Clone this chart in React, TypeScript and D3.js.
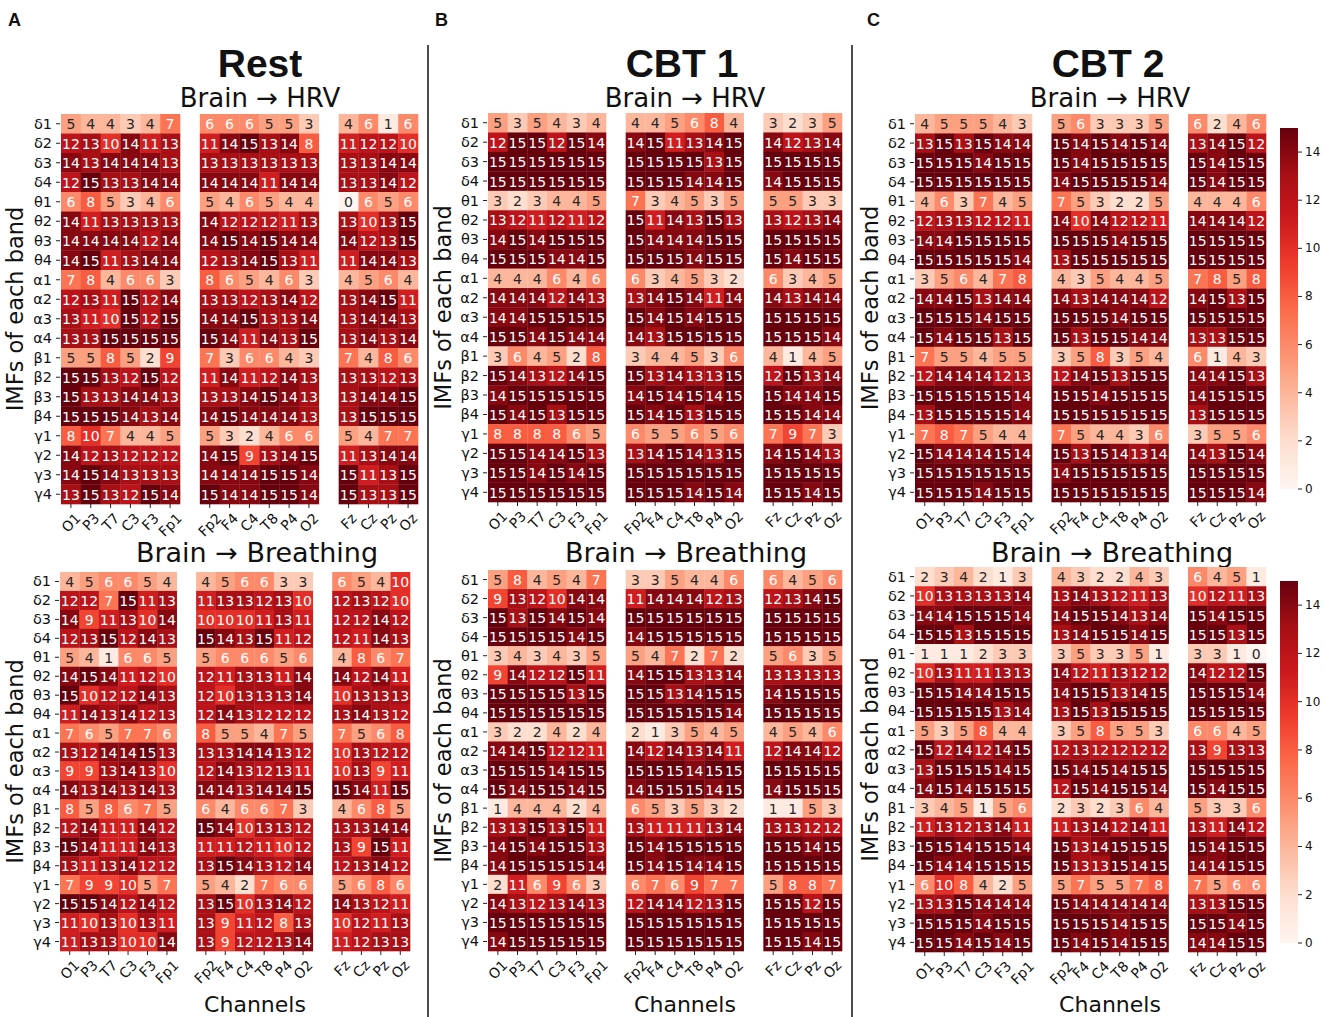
import React from "react";
import * as d3 from "d3";

const bands = ["δ1","δ2","δ3","δ4","θ1","θ2","θ3","θ4","α1","α2","α3","α4","β1","β2","β3","β4","γ1","γ2","γ3","γ4"];
const channels = ["O1","P3","T7","C3","F3","Fp1","Fp2","F4","C4","T8","P4","O2","Fz","Cz","Pz","Oz"];
const colorbarTicks = [0, 2, 4, 6, 8, 10, 12, 14];
const redsPalette = ["#fff5f0","#fee0d2","#fcbba1","#fc9272","#fb6a4a","#ef3b2c","#cb181d","#a50f15","#67000d"];
const conditions = ["Rest", "CBT 1", "CBT 2"];
const panelLetters = ["A", "B", "C"];
const targets = ["Brain → HRV", "Brain → Breathing"];

const restHRV = [
  [5,4,4,3,4,7, 6,6,6,5,5,3, 4,6,1,6],
  [12,13,10,14,11,13, 11,14,15,13,14,8, 11,12,12,10],
  [14,13,14,14,14,13, 13,13,13,13,13,13, 13,13,14,14],
  [12,15,13,13,14,14, 14,14,14,11,14,14, 13,13,14,12],
  [6,8,5,3,4,6, 5,4,6,5,4,4, 0,6,5,6],
  [14,11,13,13,13,13, 14,12,12,12,11,13, 13,10,13,15],
  [14,14,14,14,12,14, 14,15,14,15,14,14, 14,12,13,15],
  [14,15,11,13,14,14, 12,13,14,15,13,11, 11,14,14,13],
  [7,8,4,6,6,3, 8,6,5,4,6,3, 4,5,6,4],
  [12,13,11,15,12,14, 13,13,12,13,14,12, 13,14,15,11],
  [13,11,10,15,12,15, 14,14,15,13,13,14, 13,14,14,13],
  [13,13,15,15,15,15, 15,14,11,14,13,15, 13,14,13,14],
  [5,5,8,5,2,9, 7,3,6,6,4,3, 7,4,8,6],
  [15,15,13,12,15,12, 11,14,11,12,14,13, 13,13,12,13],
  [15,13,13,14,14,13, 13,13,14,15,14,13, 13,14,14,15],
  [15,15,15,14,13,14, 14,15,14,14,14,13, 13,15,15,15],
  [8,10,7,4,4,5, 5,3,2,4,6,6, 5,4,7,7],
  [14,12,13,12,12,12, 14,15,9,13,14,15, 11,13,14,14],
  [14,15,14,13,13,13, 14,14,14,15,15,14, 15,11,13,15],
  [13,15,13,12,15,14, 15,14,14,15,15,14, 15,13,13,15],
];

const restBreathing = [
  [4,5,6,6,5,4, 4,5,6,6,3,3, 6,5,4,10],
  [12,12,7,15,11,13, 11,13,13,12,13,10, 12,13,12,10],
  [14,9,11,13,10,14, 10,10,10,11,13,11, 12,12,14,12],
  [12,13,15,12,14,13, 15,14,13,15,11,12, 12,11,14,13],
  [5,4,1,6,6,5, 5,6,6,6,5,6, 4,8,6,7],
  [14,15,14,11,12,10, 12,11,13,13,11,14, 14,12,14,11],
  [15,10,12,12,14,13, 12,10,13,13,13,14, 10,13,13,13],
  [11,14,13,14,12,13, 12,14,13,12,12,12, 13,14,13,12],
  [7,6,5,7,7,6, 8,5,5,4,7,5, 7,5,6,8],
  [13,12,14,14,15,13, 13,13,14,14,13,12, 10,13,12,12],
  [9,9,13,14,13,10, 12,14,13,12,13,11, 10,13,9,11],
  [14,13,14,13,14,13, 14,14,13,14,14,15, 15,14,11,15],
  [8,5,8,6,7,5, 6,4,6,6,7,3, 4,6,8,5],
  [12,14,11,11,14,12, 15,14,10,13,13,12, 13,13,14,14],
  [15,14,11,11,14,13, 11,11,12,11,10,12, 13,9,15,11],
  [13,11,13,14,12,12, 13,15,14,13,12,14, 12,13,14,12],
  [7,9,9,10,5,7, 5,4,2,7,6,6, 5,6,8,6],
  [15,15,14,12,14,12, 13,15,10,13,14,12, 14,13,12,11],
  [11,10,13,10,13,11, 13,9,11,12,8,13, 10,12,11,13],
  [11,13,13,10,10,14, 13,9,12,12,13,14, 11,12,13,13],
];

const cbt1HRV = [
  [5,3,5,4,3,4, 4,4,5,6,8,4, 3,2,3,5],
  [12,15,15,12,15,14, 14,15,11,13,14,15, 14,12,13,14],
  [15,15,15,15,15,15, 15,15,15,15,13,15, 15,15,15,15],
  [15,15,15,15,15,15, 15,15,15,14,14,15, 14,15,15,15],
  [3,2,3,4,4,5, 7,3,4,5,3,5, 5,5,3,3],
  [13,12,11,12,11,12, 15,11,14,13,15,13, 13,12,13,14],
  [14,15,14,15,15,15, 15,14,14,14,15,15, 15,15,15,15],
  [15,15,15,14,14,15, 15,15,15,14,15,15, 15,14,15,15],
  [4,4,4,6,4,6, 6,3,4,5,3,2, 6,3,4,5],
  [14,14,14,12,14,13, 13,14,15,14,11,14, 14,13,14,14],
  [14,14,15,15,15,15, 15,14,15,14,15,15, 15,15,15,15],
  [15,15,14,15,14,14, 14,13,15,15,15,15, 15,15,15,14],
  [3,6,4,5,2,8, 3,4,4,5,3,6, 4,1,4,5],
  [15,14,13,12,14,15, 15,13,14,13,13,15, 12,15,13,14],
  [14,15,15,15,15,15, 14,15,14,15,14,15, 15,14,14,15],
  [15,14,15,13,15,15, 15,14,15,13,15,15, 15,15,14,14],
  [8,8,8,8,6,5, 6,5,5,6,5,6, 7,9,7,3],
  [15,15,14,14,15,13, 13,14,15,14,13,15, 14,15,14,13],
  [15,15,14,15,14,15, 15,15,15,15,15,15, 15,15,15,15],
  [15,15,15,15,15,15, 15,15,15,14,15,14, 15,15,14,15],
];

const cbt1Breathing = [
  [5,8,4,5,4,7, 3,3,5,4,4,6, 6,4,5,6],
  [9,13,12,10,14,14, 11,14,14,14,12,13, 12,13,14,15],
  [15,13,15,14,15,14, 15,15,15,15,15,15, 15,15,15,15],
  [15,15,15,15,14,15, 14,15,15,15,15,15, 15,15,15,15],
  [3,4,3,4,3,5, 5,4,7,2,7,2, 5,6,3,5],
  [9,14,12,12,15,11, 14,15,15,13,13,14, 13,13,13,13],
  [15,15,15,15,13,15, 15,15,13,14,15,15, 14,15,15,15],
  [15,15,15,15,15,15, 15,15,15,15,15,14, 15,15,15,15],
  [3,2,2,4,2,4, 2,1,3,5,4,5, 4,5,4,6],
  [14,14,15,12,12,11, 14,12,14,13,14,11, 12,14,14,12],
  [15,15,15,14,15,15, 15,15,15,14,15,15, 15,15,15,15],
  [15,14,15,15,14,15, 14,15,15,15,14,15, 14,15,15,15],
  [1,4,4,4,2,4, 6,5,3,5,3,2, 1,1,5,3],
  [13,13,15,13,15,11, 13,11,11,11,13,14, 13,13,12,12],
  [14,15,14,15,15,13, 15,14,15,15,15,15, 15,15,14,15],
  [14,15,15,15,15,14, 15,14,15,14,14,15, 15,15,15,15],
  [2,11,6,9,6,3, 6,7,6,9,7,7, 5,8,8,7],
  [14,13,12,13,14,13, 12,14,14,12,13,15, 15,15,12,15],
  [15,15,15,15,15,15, 15,15,15,15,15,15, 15,15,15,15],
  [14,15,15,15,15,15, 15,15,15,15,15,15, 15,15,14,15],
];

const cbt2HRV = [
  [4,5,5,5,4,3, 5,6,3,3,3,5, 6,2,4,6],
  [13,15,13,15,14,14, 15,14,15,14,15,14, 13,14,15,12],
  [15,15,15,14,15,15, 15,14,15,15,15,15, 15,14,15,15],
  [15,15,15,15,15,15, 14,15,15,15,15,14, 15,14,15,15],
  [4,6,3,7,4,5, 7,5,3,2,2,5, 4,4,4,6],
  [12,13,13,12,12,11, 14,10,14,12,12,11, 14,14,14,12],
  [14,14,15,15,15,15, 15,15,15,14,15,15, 15,15,15,15],
  [15,15,15,15,15,14, 13,15,15,15,15,15, 15,15,15,15],
  [3,5,6,4,7,8, 4,3,5,4,4,5, 7,8,5,8],
  [14,14,15,13,14,14, 14,13,14,14,14,12, 14,15,13,15],
  [15,15,15,14,15,15, 15,15,15,14,15,15, 15,15,15,15],
  [15,14,15,15,13,15, 15,13,15,15,14,14, 13,13,15,15],
  [7,5,5,4,5,5, 3,5,8,3,5,4, 6,1,4,3],
  [12,14,14,14,12,13, 12,14,15,13,15,15, 14,14,15,13],
  [15,15,15,15,15,14, 15,15,14,15,15,15, 14,15,15,15],
  [13,15,15,15,15,14, 15,15,15,15,15,15, 13,15,15,15],
  [7,8,7,5,4,4, 7,5,4,4,3,6, 3,5,5,6],
  [15,14,14,14,15,14, 15,13,15,14,13,14, 14,13,15,14],
  [15,15,15,15,15,15, 14,15,15,15,15,15, 15,15,15,15],
  [15,15,15,14,15,15, 15,15,15,15,15,15, 15,15,15,14],
];

const cbt2Breathing = [
  [2,3,4,2,1,3, 4,3,2,2,4,3, 6,4,5,1],
  [10,13,13,13,13,14, 13,14,13,12,11,13, 10,12,11,13],
  [14,14,15,15,15,14, 14,15,15,14,13,14, 15,14,15,15],
  [15,15,13,15,15,15, 13,14,15,15,14,15, 15,15,13,15],
  [1,1,1,2,3,3, 3,5,3,3,5,1, 3,3,1,0],
  [10,13,11,11,13,13, 14,12,11,13,12,12, 14,12,12,15],
  [15,15,14,14,15,15, 14,15,15,13,14,15, 15,15,15,14],
  [15,15,15,15,13,14, 13,15,13,15,15,15, 15,15,15,15],
  [5,3,5,8,4,4, 3,5,8,5,5,3, 6,6,4,5],
  [15,12,14,12,14,15, 12,13,12,12,12,12, 13,9,13,13],
  [13,15,15,15,14,15, 15,14,15,14,15,15, 15,15,15,15],
  [14,15,14,15,15,15, 12,15,14,15,15,14, 15,14,15,15],
  [3,4,5,1,5,6, 2,3,2,3,6,4, 5,3,3,6],
  [11,13,12,13,14,11, 11,13,14,12,14,11, 13,11,14,12],
  [15,15,14,15,15,14, 15,13,14,15,15,15, 15,14,15,15],
  [15,14,14,15,15,15, 15,13,13,15,14,15, 14,14,15,15],
  [6,10,8,4,2,5, 5,7,5,5,7,8, 7,5,6,6],
  [13,13,15,14,14,14, 15,14,14,14,14,14, 13,13,15,15],
  [15,15,15,14,15,15, 15,15,15,14,15,15, 15,15,14,15],
  [15,15,14,15,14,15, 15,14,15,14,15,15, 14,14,15,15],
];

const FONT = "DejaVu Sans, sans-serif";
const BOLD_FONT = "Liberation Sans, Arial, sans-serif";

const color = d3
  .scaleLinear<string>()
  .domain(redsPalette.map((_, i) => (i * 15) / (redsPalette.length - 1)))
  .range(redsPalette)
  .interpolate(d3.interpolateRgb)
  .clamp(true);

function luminance(c: string) {
  const rgb = d3.rgb(c);
  const lin = (v: number) => {
    const s = v / 255;
    return s <= 0.03928 ? s / 12.92 : Math.pow((s + 0.055) / 1.055, 2.4);
  };
  return 0.2126 * lin(rgb.r) + 0.7152 * lin(rgb.g) + 0.0722 * lin(rgb.b);
}

// grid slot for each channel (two empty slots separate the three groups)
const slotOf = (i: number) => (i < 6 ? i : i < 12 ? i + 1 : i + 2);

const charW: Record<string, number> = {
  O: 0.787, P: 0.603, T: 0.611, C: 0.698, F: 0.575, p: 0.635, z: 0.525,
  "1": 0.636, "2": 0.636, "3": 0.636, "4": 0.636, "7": 0.636, "8": 0.636,
};

type Box = { x0: number; x1: number; y0: number; y1: number };

function Heatmap({ data, box }: { data: number[][]; box: Box }) {
  const xs = d3.scaleBand<number>().domain(d3.range(18)).range([box.x0, box.x1]);
  const ys = d3.scaleBand<number>().domain(d3.range(bands.length)).range([box.y0, box.y1]);
  const bw = xs.bandwidth();
  const bh = ys.bandwidth();
  const tickFs = 14;
  return (
    <g>
      {data.map((row, r) =>
        row.map((v, c) => {
          const fill = color(v);
          const x = xs(slotOf(c))!;
          const y = ys(r)!;
          return (
            <g key={`${r}-${c}`}>
              <rect x={x} y={y} width={bw + 0.3} height={bh + 0.3} fill={fill} />
              <text
                x={x + bw / 2}
                y={y + bh / 2 + 0.5}
                textAnchor="middle"
                dominantBaseline="central"
                fontSize={14}
                fontFamily={FONT}
                fill={luminance(fill) > 0.408 ? "#262626" : "#ffffff"}
              >
                {v}
              </text>
            </g>
          );
        })
      )}
      {bands.map((b, r) => (
        <g key={b}>
          <line x1={box.x0 - 5} x2={box.x0 - 1} y1={ys(r)! + bh / 2} y2={ys(r)! + bh / 2} stroke="#222" strokeWidth={1} />
          <text
            x={box.x0 - 9}
            y={ys(r)! + bh / 2}
            textAnchor="end"
            dominantBaseline="central"
            fontSize={14.5}
            fontFamily={FONT}
            fill="#111"
          >
            {b}
          </text>
        </g>
      ))}
      {channels.map((ch, i) => {
        const cx = xs(slotOf(i))! + bw / 2;
        const w = ch.split("").reduce((s, k) => s + (charW[k] ?? 0.62), 0) * tickFs;
        const h = tickFs * 1.16;
        const bb = (w + h) * Math.SQRT1_2;
        const cy = box.y1 + 6 + bb / 2;
        return (
          <g key={ch}>
            <line x1={cx} x2={cx} y1={box.y1} y2={box.y1 + 4} stroke="#222" strokeWidth={1} />
            <text
              transform={`translate(${cx},${cy}) rotate(-45)`}
              textAnchor="middle"
              dominantBaseline="central"
              fontSize={tickFs}
              fontFamily={FONT}
              fill="#111"
            >
              {ch}
            </text>
          </g>
        );
      })}
    </g>
  );
}

function Colorbar({ x, y0, y1, width, id }: { x: number; y0: number; y1: number; width: number; id: string }) {
  const s = d3.scaleLinear().domain([0, 15]).range([y1, y0]);
  const stops = d3.range(0, 15.01, 0.5);
  return (
    <g>
      <defs>
        <linearGradient id={id} x1="0" y1="1" x2="0" y2="0">
          {stops.map((v) => (
            <stop key={v} offset={`${(v / 15) * 100}%`} stopColor={color(v)} />
          ))}
        </linearGradient>
      </defs>
      <rect x={x} y={y0} width={width} height={y1 - y0} fill={`url(#${id})`} />
      {colorbarTicks.map((t) => (
        <g key={t}>
          <line x1={x + width} x2={x + width + 4} y1={s(t)} y2={s(t)} stroke="#222" />
          <text x={x + width + 7} y={s(t)} dominantBaseline="central" fontSize={12} fontFamily={FONT} fill="#111">
            {t}
          </text>
        </g>
      ))}
    </g>
  );
}

const panels = [
  {
    top: restHRV, bottom: restBreathing,
    topBox: { x0: 61, x1: 418, y0: 114, y1: 504 },
    botBox: { x0: 60, x1: 410, y0: 572, y1: 951 },
    letterX: 8, titleX: 260, sub1X: 260, sub2X: 257, chanX: 255, ylabX: 15,
  },
  {
    top: cbt1HRV, bottom: cbt1Breathing,
    topBox: { x0: 488, x1: 842, y0: 113, y1: 502 },
    botBox: { x0: 488, x1: 842, y0: 570, y1: 951 },
    letterX: 435, titleX: 682, sub1X: 685, sub2X: 686, chanX: 685, ylabX: 443,
  },
  {
    top: cbt2HRV, bottom: cbt2Breathing,
    topBox: { x0: 915, x1: 1266, y0: 114, y1: 502 },
    botBox: { x0: 915, x1: 1266, y0: 567, y1: 952 },
    letterX: 867, titleX: 1108, sub1X: 1110, sub2X: 1112, chanX: 1110, ylabX: 870,
  },
];

export default function App() {
  return (
    <svg width={1325} height={1017} style={{ position: "absolute", left: 0, top: 0, background: "#fff" }}>
      <rect width={1325} height={1017} fill="#fff" />
      {panels.map((p, i) => (
        <g key={i}>
          <text x={p.letterX} y={26} fontSize={18} fontWeight="bold" fontFamily={BOLD_FONT} fill="#111">
            {panelLetters[i]}
          </text>
          <text x={p.titleX} y={77} textAnchor="middle" fontSize={39} fontWeight="bold" fontFamily={BOLD_FONT} fill="#111">
            {conditions[i]}
          </text>
          <text x={p.sub1X} y={107} textAnchor="middle" fontSize={26} fontFamily={FONT} fill="#111">
            {targets[0]}
          </text>
          <text x={p.sub2X} y={562} textAnchor="middle" fontSize={27} fontFamily={FONT} fill="#111">
            {targets[1]}
          </text>
          <text x={p.chanX} y={1012} textAnchor="middle" fontSize={22} fontFamily={FONT} fill="#111">
            Channels
          </text>
          {[p.topBox, p.botBox].map((b, k) => (
            <text
              key={k}
              transform={`translate(${p.ylabX},${(b.y0 + b.y1) / 2}) rotate(-90)`}
              textAnchor="middle"
              dominantBaseline="central"
              fontSize={22.5}
              fontFamily={FONT}
              fill="#111"
            >
              IMFs of each band
            </text>
          ))}
          <Heatmap data={p.top} box={p.topBox} />
          <Heatmap data={p.bottom} box={p.botBox} />
        </g>
      ))}
      <line x1={428} x2={428} y1={45} y2={1017} stroke="#111" strokeWidth={1.5} />
      <line x1={852} x2={852} y1={45} y2={1017} stroke="#111" strokeWidth={1.5} />
      <Colorbar x={1280} y0={128} y1={489} width={18} id="cb1" />
      <Colorbar x={1280} y0={581} y1={943} width={18} id="cb2" />
    </svg>
  );
}
